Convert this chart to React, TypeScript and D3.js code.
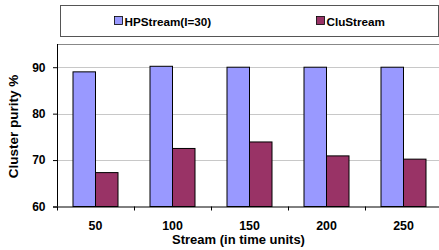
import React, { useRef, useEffect } from 'react';
import * as d3 from 'd3';

const categories = ['50', '100', '150', '200', '250'];
const seriesNames = ['HPStream(I=30)', 'CluStream'];
const hpStream = [89.0, 90.2, 90.0, 90.0, 90.0];
const cluStream = [67.3, 72.5, 73.9, 70.9, 70.2];
const yTicks = [60, 70, 80, 90];
const colors = ['#9999ff', '#993366'];

const App = () => {
  const ref = useRef<SVGSVGElement>(null);

  const width = 439;
  const height = 250;
  const margin = { top: 44, right: -3, bottom: 43.5, left: 57 };
  const innerWidth = width - margin.left - margin.right;
  const innerHeight = height - margin.top - margin.bottom;

  useEffect(() => {
    const svg = d3.select(ref.current);
    svg.selectAll('*').remove();

    const font = "'Liberation Sans', Arial, sans-serif";

    // legend box
    const legend = svg.append('g');
    legend.append('rect')
      .attr('x', 60.5).attr('y', 5.5)
      .attr('width', 378).attr('height', 31)
      .attr('fill', 'white').attr('stroke', '#555').attr('stroke-width', 1);
    const legendX = [114, 316];
    seriesNames.forEach((name, i) => {
      legend.append('rect')
        .attr('x', legendX[i] + 0.5).attr('y', 16.5)
        .attr('width', 8).attr('height', 8)
        .attr('fill', colors[i]).attr('stroke', '#000').attr('stroke-width', 0.8);
      legend.append('text')
        .attr('x', legendX[i] + 10.5).attr('y', 25.5)
        .attr('font-family', font).attr('font-weight', 'bold').attr('font-size', 11.7)
        .text(name);
    });

    const g = svg.append('g').attr('transform', `translate(${margin.left}, ${margin.top})`);

    const xScale = d3.scaleBand().domain(categories).range([0, innerWidth]);
    const x1 = d3.scaleBand().domain(seriesNames).range([16, xScale.bandwidth() - 16]);
    const yScale = d3.scaleLinear().domain([60, 95]).range([innerHeight, 0]);

    // gridlines
    g.selectAll('.grid')
      .data(yTicks.slice(1))
      .enter().append('line')
      .attr('x1', 0).attr('x2', innerWidth)
      .attr('y1', d => Math.round(yScale(d)) + 0.5).attr('y2', d => Math.round(yScale(d)) + 0.5)
      .attr('stroke', '#c8c8c8').attr('stroke-width', 1);

    // top border
    g.append('line')
      .attr('x1', 0).attr('x2', innerWidth).attr('y1', 0.5).attr('y2', 0.5)
      .attr('stroke', '#888');

    const series = [hpStream, cluStream];
    series.forEach((vals, si) => {
      g.selectAll(`.bar${si}`)
        .data(vals)
        .enter().append('rect')
        .attr('x', (d, i) => (xScale(categories[i]) as number) + (x1(seriesNames[si]) as number))
        .attr('y', d => yScale(d))
        .attr('width', x1.bandwidth())
        .attr('height', d => innerHeight - yScale(d))
        .attr('fill', colors[si])
        .attr('stroke', '#000').attr('stroke-width', 1);
    });

    // y axis
    const yAxis = g.append('g')
      .call(d3.axisLeft(yScale).tickValues(yTicks).tickSize(4).tickPadding(7.5).tickFormat(d3.format('d')));
    yAxis.select('.domain').attr('d', `M0.5,0V${innerHeight}`).attr('stroke', '#000');
    yAxis.selectAll('text').attr('font-family', font).attr('font-weight', 'bold').attr('font-size', 12).attr('fill', '#000');

    // x axis
    const xAxis = g.append('g').attr('transform', `translate(0, ${innerHeight})`);
    xAxis.append('line')
      .attr('x1', -4).attr('x2', innerWidth).attr('y1', 0.5).attr('y2', 0.5)
      .attr('stroke', '#000');
    xAxis.selectAll('.xtick')
      .data(categories)
      .enter().append('line')
      .attr('x1', d => (xScale(d) as number) + 0.5).attr('x2', d => (xScale(d) as number) + 0.5)
      .attr('y1', 0).attr('y2', 4)
      .attr('stroke', '#000');
    xAxis.selectAll('.xlabel')
      .data(categories)
      .enter().append('text')
      .attr('x', d => (xScale(d) as number) + xScale.bandwidth() / 2)
      .attr('y', 23.5)
      .attr('text-anchor', 'middle')
      .attr('font-family', font).attr('font-weight', 'bold').attr('font-size', 12.4)
      .text(d => d);

    // axis titles
    svg.append('text')
      .attr('x', 238.5).attr('y', 243.5)
      .attr('text-anchor', 'middle')
      .attr('font-family', font).attr('font-weight', 'bold').attr('font-size', 13)
      .text('Stream (in time units)');
    svg.append('text')
      .attr('transform', 'translate(17.5, 126.5) rotate(-90)')
      .attr('text-anchor', 'middle')
      .attr('font-family', font).attr('font-weight', 'bold').attr('font-size', 13.5)
      .text('Cluster purity %');
  }, []);

  return (
    <div>
      <svg ref={ref} width={width} height={height} style={{ position: 'absolute', left: 0, top: 0, background: 'white' }}></svg>
    </div>
  );
};

export default App;
